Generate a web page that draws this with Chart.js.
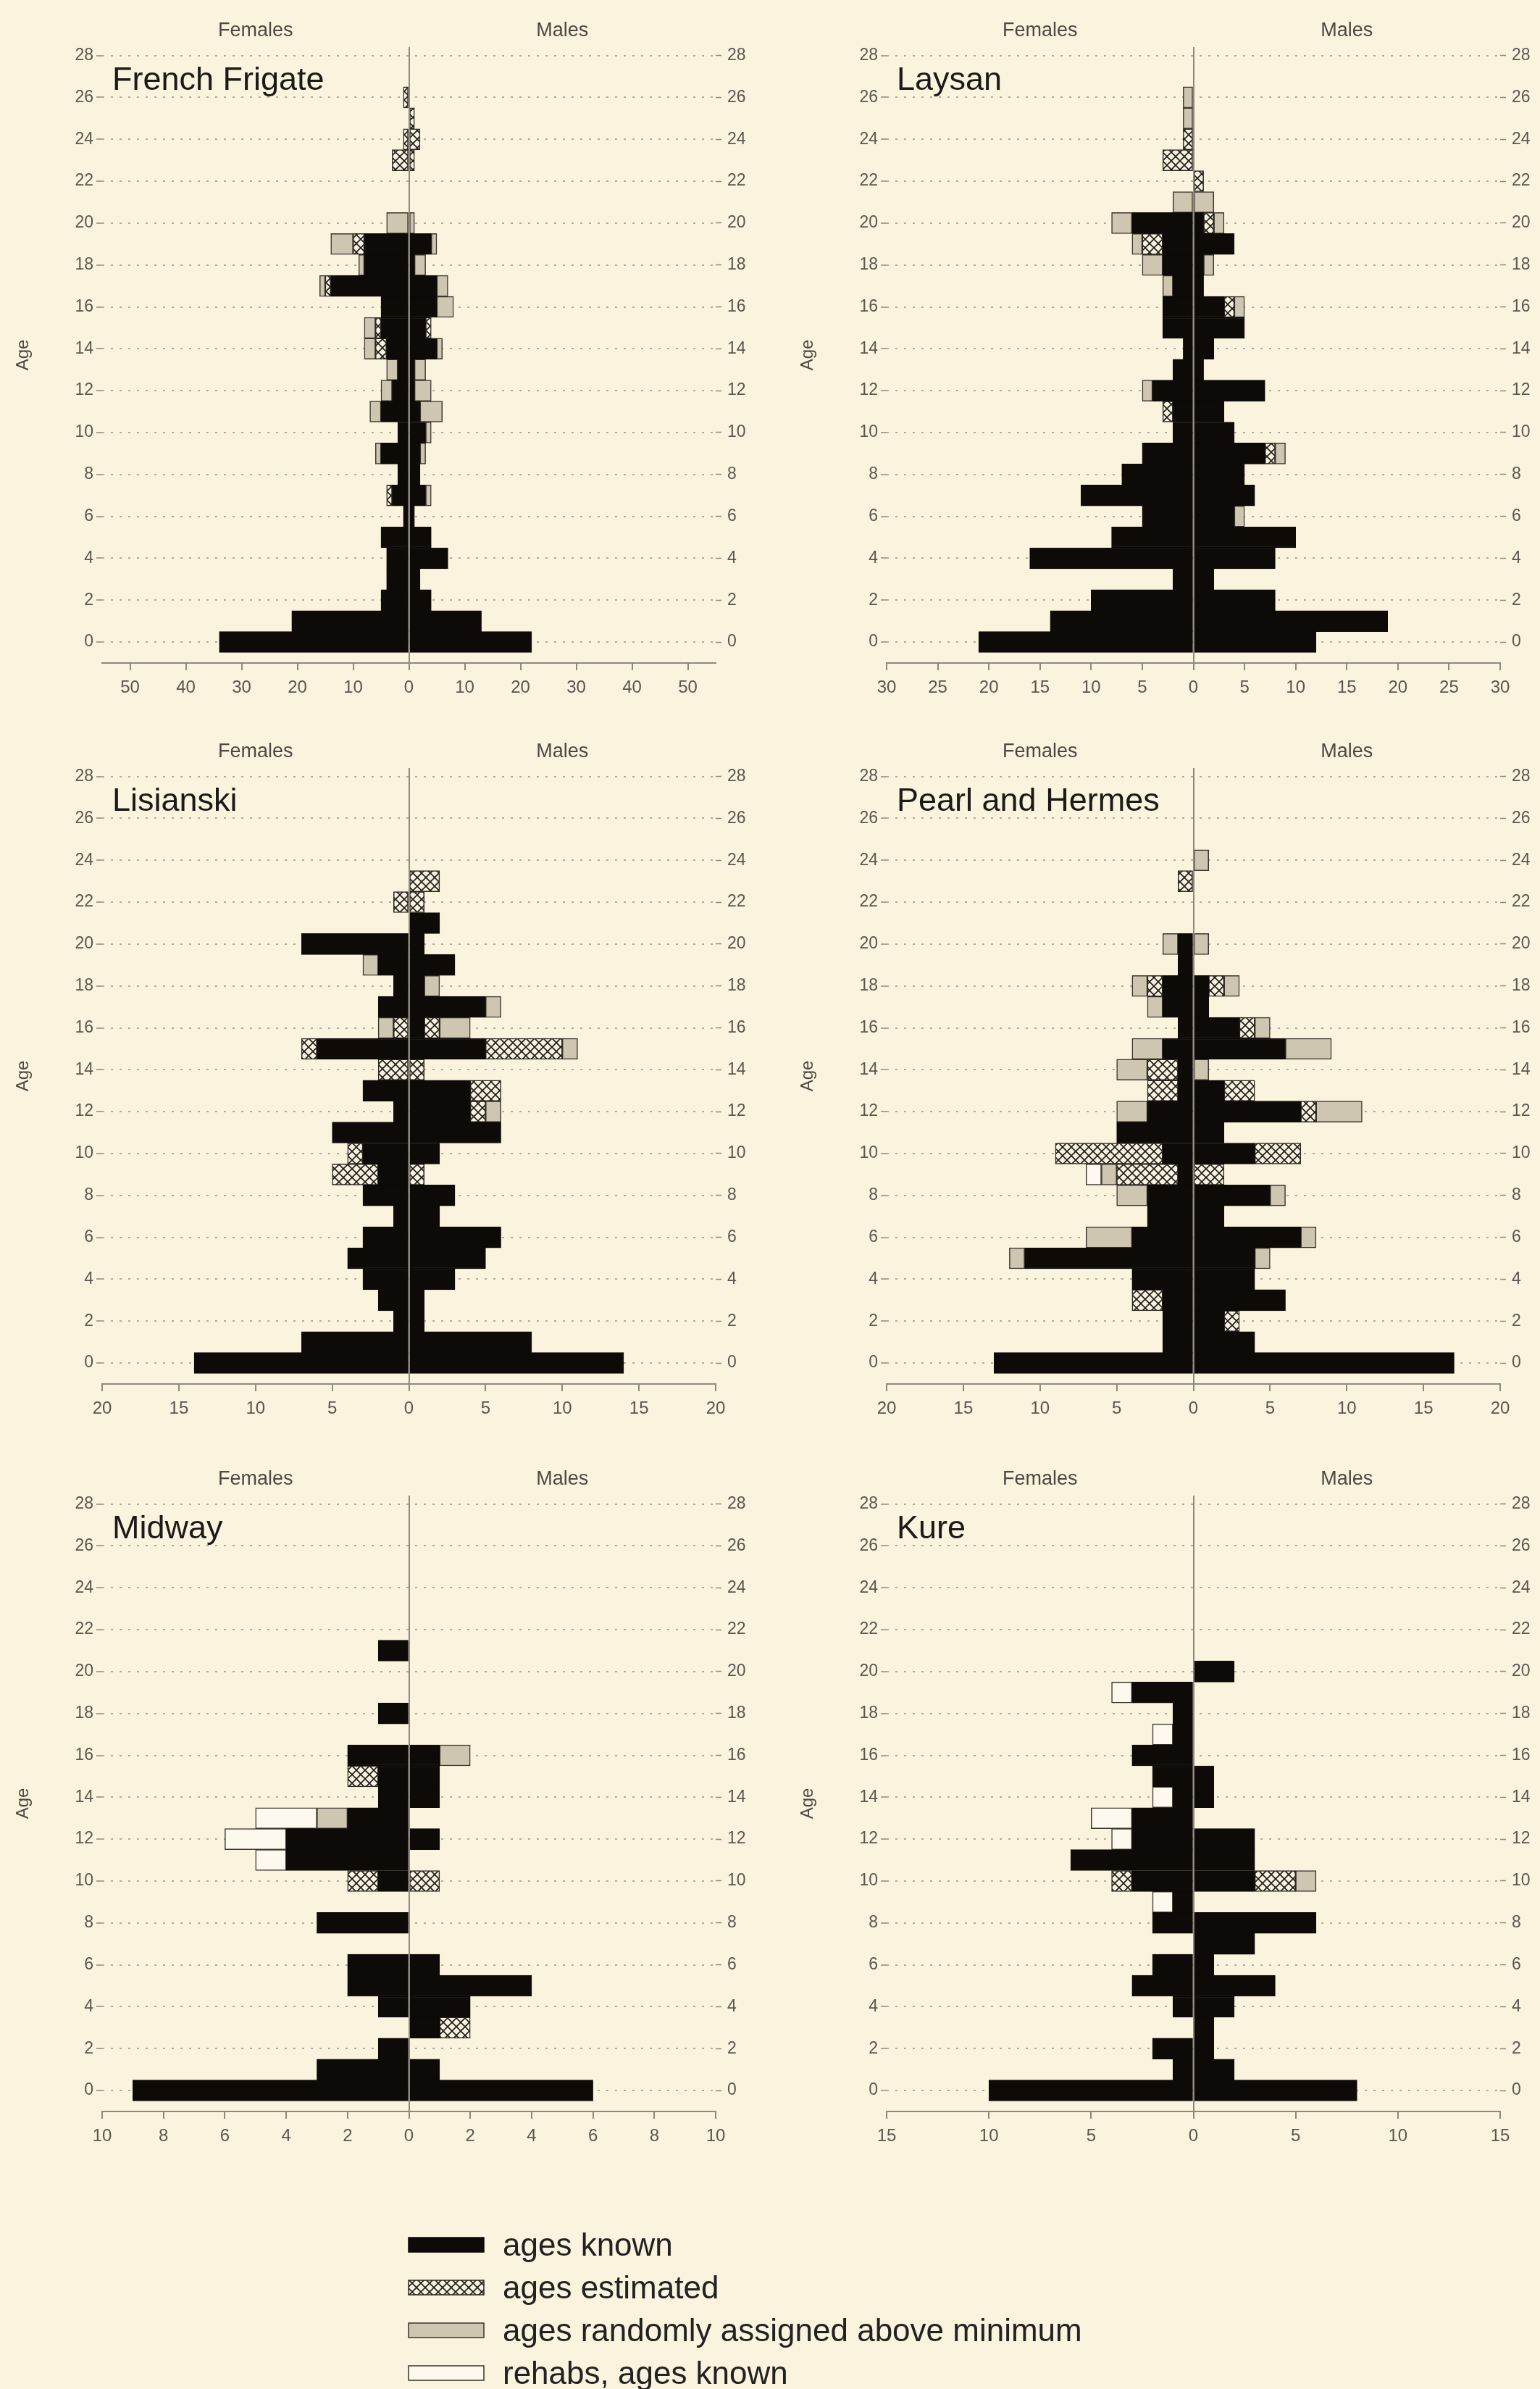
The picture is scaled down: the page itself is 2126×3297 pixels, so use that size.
<!DOCTYPE html>
<html>
<head>
<meta charset="utf-8">
<title>Age structure by island</title>
<script src="https://cdn.jsdelivr.net/npm/chart.js@4.4.1/dist/chart.umd.min.js"></script>
<style>
  html, body { margin: 0; padding: 0; background: #faf3de; }
  body { width: 2126px; height: 3297px; position: relative; overflow: hidden; font-family: "Liberation Sans", Arial, sans-serif; }
  canvas.panel { position: absolute; }
  #legend { position: absolute; left: 563px; top: 3068px; }
  .row { height: 59px; display: flex; align-items: center; }
  .row canvas { margin-right: 25px; }
  .row span { font-size: 44px; color: #222; }
</style>
</head>
<body>
<canvas class="panel" id="p0" width="1043" height="1000" style="left:0;top:0"></canvas>
<canvas class="panel" id="p1" width="1043" height="1000" style="left:1083px;top:0"></canvas>
<canvas class="panel" id="p2" width="1043" height="1000" style="left:0;top:995px"></canvas>
<canvas class="panel" id="p3" width="1043" height="1000" style="left:1083px;top:995px"></canvas>
<canvas class="panel" id="p4" width="1043" height="1000" style="left:0;top:1999px"></canvas>
<canvas class="panel" id="p5" width="1043" height="1000" style="left:1083px;top:1999px"></canvas>
<div id="legend"></div>

<script>
// Age pyramids per island: females drawn to the left, males to the right.
// Every array is indexed by age 0..28.

const ages = [0, 1, 2, 3, 4, 5, 6, 7, 8, 9, 10, 11, 12, 13, 14, 15, 16, 17, 18, 19, 20, 21, 22, 23, 24, 25, 26, 27, 28];
const ageTicks = [0, 2, 4, 6, 8, 10, 12, 14, 16, 18, 20, 22, 24, 26, 28];

const categoryNames = ['ages known', 'ages estimated', 'ages randomly assigned above minimum', 'rehabs, ages known'];

// French Frigate
const ffFemKnown = [34, 21, 5, 4, 4, 5, 1, 3, 2, 5, 2, 5, 3, 2, 4, 5, 5, 14, 8, 8, 0, 0, 0, 0, 0, 0, 0, 0, 0];
const ffFemEst   = [0, 0, 0, 0, 0, 0, 0, 1, 0, 0, 0, 0, 0, 0, 2, 1, 0, 1, 0, 2, 0, 0, 0, 3, 1, 0, 1, 0, 0];
const ffFemRand  = [0, 0, 0, 0, 0, 0, 0, 0, 0, 1, 0, 2, 2, 2, 2, 2, 0, 1, 1, 4, 4, 0, 0, 0, 0, 0, 0, 0, 0];
const ffFemRehab = [0, 0, 0, 0, 0, 0, 0, 0, 0, 0, 0, 0, 0, 0, 0, 0, 0, 0, 0, 0, 0, 0, 0, 0, 0, 0, 0, 0, 0];
const ffMalKnown = [22, 13, 4, 2, 7, 4, 1, 3, 2, 2, 3, 2, 1, 1, 5, 3, 5, 5, 1, 4, 0, 0, 0, 0, 0, 0, 0, 0, 0];
const ffMalEst   = [0, 0, 0, 0, 0, 0, 0, 0, 0, 0, 0, 0, 0, 0, 0, 1, 0, 0, 0, 0, 0, 0, 0, 1, 2, 1, 0, 0, 0];
const ffMalRand  = [0, 0, 0, 0, 0, 0, 0, 1, 0, 1, 1, 4, 3, 2, 1, 0, 3, 2, 2, 1, 1, 0, 0, 0, 0, 0, 0, 0, 0];

// Laysan
const lyFemKnown = [21, 14, 10, 2, 16, 8, 5, 11, 7, 5, 2, 2, 4, 2, 1, 3, 3, 2, 3, 3, 6, 0, 0, 0, 0, 0, 0, 0, 0];
const lyFemEst   = [0, 0, 0, 0, 0, 0, 0, 0, 0, 0, 0, 1, 0, 0, 0, 0, 0, 0, 0, 2, 0, 0, 0, 3, 1, 0, 0, 0, 0];
const lyFemRand  = [0, 0, 0, 0, 0, 0, 0, 0, 0, 0, 0, 0, 1, 0, 0, 0, 0, 1, 2, 1, 2, 2, 0, 0, 0, 1, 1, 0, 0];
const lyFemRehab = [0, 0, 0, 0, 0, 0, 0, 0, 0, 0, 0, 0, 0, 0, 0, 0, 0, 0, 0, 0, 0, 0, 0, 0, 0, 0, 0, 0, 0];
const lyMalKnown = [12, 19, 8, 2, 8, 10, 4, 6, 5, 7, 4, 3, 7, 1, 2, 5, 3, 1, 1, 4, 1, 0, 0, 0, 0, 0, 0, 0, 0];
const lyMalEst   = [0, 0, 0, 0, 0, 0, 0, 0, 0, 1, 0, 0, 0, 0, 0, 0, 1, 0, 0, 0, 1, 0, 1, 0, 0, 0, 0, 0, 0];
const lyMalRand  = [0, 0, 0, 0, 0, 0, 1, 0, 0, 1, 0, 0, 0, 0, 0, 0, 1, 0, 1, 0, 1, 2, 0, 0, 0, 0, 0, 0, 0];

// Lisianski
const liFemKnown = [14, 7, 1, 2, 3, 4, 3, 1, 3, 2, 3, 5, 1, 3, 0, 6, 0, 2, 1, 2, 7, 0, 0, 0, 0, 0, 0, 0, 0];
const liFemEst   = [0, 0, 0, 0, 0, 0, 0, 0, 0, 3, 1, 0, 0, 0, 2, 1, 1, 0, 0, 0, 0, 0, 1, 0, 0, 0, 0, 0, 0];
const liFemRand  = [0, 0, 0, 0, 0, 0, 0, 0, 0, 0, 0, 0, 0, 0, 0, 0, 1, 0, 0, 1, 0, 0, 0, 0, 0, 0, 0, 0, 0];
const liFemRehab = [0, 0, 0, 0, 0, 0, 0, 0, 0, 0, 0, 0, 0, 0, 0, 0, 0, 0, 0, 0, 0, 0, 0, 0, 0, 0, 0, 0, 0];
const liMalKnown = [14, 8, 1, 1, 3, 5, 6, 2, 3, 0, 2, 6, 4, 4, 0, 5, 1, 5, 1, 3, 1, 2, 0, 0, 0, 0, 0, 0, 0];
const liMalEst   = [0, 0, 0, 0, 0, 0, 0, 0, 0, 1, 0, 0, 1, 2, 1, 5, 1, 0, 0, 0, 0, 0, 1, 2, 0, 0, 0, 0, 0];
const liMalRand  = [0, 0, 0, 0, 0, 0, 0, 0, 0, 0, 0, 0, 1, 0, 0, 1, 2, 1, 1, 0, 0, 0, 0, 0, 0, 0, 0, 0, 0];

// Pearl and Hermes
const phFemKnown = [13, 2, 2, 2, 4, 11, 4, 3, 3, 1, 2, 5, 3, 1, 1, 2, 1, 2, 2, 1, 1, 0, 0, 0, 0, 0, 0, 0, 0];
const phFemEst   = [0, 0, 0, 2, 0, 0, 0, 0, 0, 4, 7, 0, 0, 2, 2, 0, 0, 0, 1, 0, 0, 0, 0, 1, 0, 0, 0, 0, 0];
const phFemRand  = [0, 0, 0, 0, 0, 1, 3, 0, 2, 1, 0, 0, 2, 0, 2, 2, 0, 1, 1, 0, 1, 0, 0, 0, 0, 0, 0, 0, 0];
const phFemRehab = [0, 0, 0, 0, 0, 0, 0, 0, 0, 1, 0, 0, 0, 0, 0, 0, 0, 0, 0, 0, 0, 0, 0, 0, 0, 0, 0, 0, 0];
const phMalKnown = [17, 4, 2, 6, 4, 4, 7, 2, 5, 0, 4, 2, 7, 2, 0, 6, 3, 1, 1, 0, 0, 0, 0, 0, 0, 0, 0, 0, 0];
const phMalEst   = [0, 0, 1, 0, 0, 0, 0, 0, 0, 2, 3, 0, 1, 2, 0, 0, 1, 0, 1, 0, 0, 0, 0, 0, 0, 0, 0, 0, 0];
const phMalRand  = [0, 0, 0, 0, 0, 1, 1, 0, 1, 0, 0, 0, 3, 0, 1, 3, 1, 0, 1, 0, 1, 0, 0, 0, 1, 0, 0, 0, 0];

// Midway
const miFemKnown = [9, 3, 1, 0, 1, 2, 2, 0, 3, 0, 1, 4, 4, 2, 1, 1, 2, 0, 1, 0, 0, 1, 0, 0, 0, 0, 0, 0, 0];
const miFemEst   = [0, 0, 0, 0, 0, 0, 0, 0, 0, 0, 1, 0, 0, 0, 0, 1, 0, 0, 0, 0, 0, 0, 0, 0, 0, 0, 0, 0, 0];
const miFemRand  = [0, 0, 0, 0, 0, 0, 0, 0, 0, 0, 0, 0, 0, 1, 0, 0, 0, 0, 0, 0, 0, 0, 0, 0, 0, 0, 0, 0, 0];
const miFemRehab = [0, 0, 0, 0, 0, 0, 0, 0, 0, 0, 0, 1, 2, 2, 0, 0, 0, 0, 0, 0, 0, 0, 0, 0, 0, 0, 0, 0, 0];
const miMalKnown = [6, 1, 0, 1, 2, 4, 1, 0, 0, 0, 0, 0, 1, 0, 1, 1, 1, 0, 0, 0, 0, 0, 0, 0, 0, 0, 0, 0, 0];
const miMalEst   = [0, 0, 0, 1, 0, 0, 0, 0, 0, 0, 1, 0, 0, 0, 0, 0, 0, 0, 0, 0, 0, 0, 0, 0, 0, 0, 0, 0, 0];
const miMalRand  = [0, 0, 0, 0, 0, 0, 0, 0, 0, 0, 0, 0, 0, 0, 0, 0, 1, 0, 0, 0, 0, 0, 0, 0, 0, 0, 0, 0, 0];

// Kure
const kuFemKnown = [10, 1, 2, 0, 1, 3, 2, 0, 2, 1, 3, 6, 3, 3, 1, 2, 3, 1, 1, 3, 0, 0, 0, 0, 0, 0, 0, 0, 0];
const kuFemEst   = [0, 0, 0, 0, 0, 0, 0, 0, 0, 0, 1, 0, 0, 0, 0, 0, 0, 0, 0, 0, 0, 0, 0, 0, 0, 0, 0, 0, 0];
const kuFemRand  = [0, 0, 0, 0, 0, 0, 0, 0, 0, 0, 0, 0, 0, 0, 0, 0, 0, 0, 0, 0, 0, 0, 0, 0, 0, 0, 0, 0, 0];
const kuFemRehab = [0, 0, 0, 0, 0, 0, 0, 0, 0, 1, 0, 0, 1, 2, 1, 0, 0, 1, 0, 1, 0, 0, 0, 0, 0, 0, 0, 0, 0];
const kuMalKnown = [8, 2, 1, 1, 2, 4, 1, 3, 6, 0, 3, 3, 3, 0, 1, 1, 0, 0, 0, 0, 2, 0, 0, 0, 0, 0, 0, 0, 0];
const kuMalEst   = [0, 0, 0, 0, 0, 0, 0, 0, 0, 0, 2, 0, 0, 0, 0, 0, 0, 0, 0, 0, 0, 0, 0, 0, 0, 0, 0, 0, 0];
const kuMalRand  = [0, 0, 0, 0, 0, 0, 0, 0, 0, 0, 1, 0, 0, 0, 0, 0, 0, 0, 0, 0, 0, 0, 0, 0, 0, 0, 0, 0, 0];

// Labelled ticks per panel (each axis runs symmetric around 0)
const ffTicks = [-50, -40, -30, -20, -10, 0, 10, 20, 30, 40, 50];
const lyTicks = [-30, -25, -20, -15, -10, -5, 0, 5, 10, 15, 20, 25, 30];
const liTicks = [-20, -15, -10, -5, 0, 5, 10, 15, 20];
const phTicks = [-20, -15, -10, -5, 0, 5, 10, 15, 20];
const miTicks = [-10, -8, -6, -4, -2, 0, 2, 4, 6, 8, 10];
const kuTicks = [-15, -10, -5, 0, 5, 10, 15];

const FONT = '"Liberation Sans", Arial, sans-serif';
const tickGray = '#5a564e';
const dotGray = '#b1ab99';
const lineGray = '#8e897e';

// Crosshatch fill for estimated ages
function makeHatch(ctx) {
    const tile = document.createElement('canvas');
    tile.width = 12;
    tile.height = 12;
    const g = tile.getContext('2d');
    g.fillStyle = '#f7f1df';
    g.fillRect(0, 0, 12, 12);
    g.strokeStyle = '#1d1a16';
    g.lineWidth = 1.6;
    g.beginPath();
    g.moveTo(0, 0); g.lineTo(12, 12);
    g.moveTo(12, 0); g.lineTo(0, 12);
    g.stroke();
    return ctx.createPattern(tile, 'repeat');
}

function getStyles(ctx) {
    return [
        { fill: '#0d0a07', border: '#0d0a07' },
        { fill: makeHatch(ctx), border: '#2b2722' },
        { fill: '#cec6b0', border: '#3a352e' },
        { fill: '#fdf9ee', border: '#3a352e' }
    ];
}

// Draws "Females" / "Males" headings and the island name
const panelText = {
    id: 'panelText',
    afterDraw(chart, args, opts) {
        const { ctx, chartArea: a, scales } = chart;
        const zero = scales.x.getPixelForValue(0);
        ctx.save();
        ctx.font = '27px ' + FONT;
        ctx.fillStyle = '#4d4942';
        ctx.textAlign = 'center';
        ctx.textBaseline = 'middle';
        ctx.fillText('Females', (a.left + zero) / 2, a.top - 22);
        ctx.fillText('Males', (a.right + zero) / 2, a.top - 22);
        ctx.font = '45px ' + FONT;
        ctx.fillStyle = '#1c1a17';
        ctx.textAlign = 'left';
        ctx.fillText(opts.title, a.left + 14, scales.y.getPixelForValue(26.8));
        ctx.restore();
    }
};

function sideData(values, sign) {
    return values.map(v => (v ? sign * v : null));
}

function buildPanel(id, title, fem, mal, xTicks) {
    const canvas = document.getElementById(id);
    const styles = getStyles(canvas.getContext('2d'));
    const xLim = Math.max(...xTicks) === 50 ? 55 : Math.max(...xTicks);

    const datasets = [];
    fem.forEach((arr, i) => {
        datasets.push({
            label: categoryNames[i] + ' (females)',
            data: sideData(arr, -1),
            backgroundColor: styles[i].fill,
            borderColor: styles[i].border
        });
    });
    mal.forEach((arr, i) => {
        datasets.push({
            label: categoryNames[i] + ' (males)',
            data: sideData(arr, 1),
            backgroundColor: styles[i].fill,
            borderColor: styles[i].border
        });
    });
    datasets.forEach(d => {
        d.borderWidth = 1.5;
        d.borderSkipped = false;
        d.barPercentage = 1;
        d.categoryPercentage = 1;
        d.xAxisID = 'x';
        d.yAxisID = 'y';
    });

    const ageTickOpts = {
        font: { family: FONT, size: 23 },
        color: tickGray,
        autoSkip: false
    };

    return new Chart(canvas, {
        type: 'bar',
        data: { labels: ages, datasets: datasets },
        options: {
            indexAxis: 'y',
            responsive: false,
            animation: false,
            devicePixelRatio: 1,
            layout: { padding: { top: 65, left: 0, right: 0, bottom: 0 } },
            plugins: {
                legend: { display: false },
                tooltip: { enabled: false },
                panelText: { title: title }
            },
            scales: {
                x: {
                    type: 'linear',
                    stacked: true,
                    min: -xLim,
                    max: xLim,
                    afterBuildTicks: s => { s.ticks = xTicks.map(v => ({ value: v })); },
                    afterFit: s => { s.height = 85; },
                    ticks: {
                        callback: v => Math.abs(v),
                        font: { family: FONT, size: 24 },
                        color: tickGray,
                        padding: 10,
                        maxRotation: 0,
                        autoSkip: false
                    },
                    grid: {
                        z: 1,
                        color: c => (c.tick && c.tick.value === 0 ? lineGray : 'rgba(0,0,0,0)'),
                        lineWidth: 2,
                        tickColor: lineGray,
                        tickLength: 10,
                        tickWidth: 2
                    },
                    border: { display: true, color: lineGray, width: 2, z: 1 }
                },
                y: {
                    type: 'linear',
                    stacked: true,
                    position: 'left',
                    offset: false,
                    min: -1,
                    max: 28.4,
                    afterBuildTicks: s => { s.ticks = ageTicks.map(v => ({ value: v })); },
                    afterFit: s => { s.width = 141; },
                    ticks: Object.assign({ padding: 4 }, ageTickOpts),
                    grid: {
                        offset: false,
                        color: dotGray,
                        lineWidth: 2,
                        tickColor: lineGray,
                        tickLength: 8,
                        tickWidth: 1.5
                    },
                    border: { display: false, dash: [3, 9] },
                    title: {
                        display: true,
                        text: 'Age',
                        color: '#4d4942',
                        font: { family: FONT, size: 24 },
                        padding: { top: 18, bottom: 0 }
                    }
                },
                y2: {
                    type: 'linear',
                    position: 'right',
                    offset: false,
                    min: -1,
                    max: 28.4,
                    afterBuildTicks: s => { s.ticks = ageTicks.map(v => ({ value: v })); },
                    afterFit: s => { s.width = 55; },
                    ticks: Object.assign({ padding: 8 }, ageTickOpts),
                    grid: {
                        offset: false,
                        drawOnChartArea: false,
                        tickColor: lineGray,
                        tickLength: 8,
                        tickWidth: 1.5
                    },
                    border: { display: false }
                }
            }
        },
        plugins: [panelText]
    });
}

buildPanel('p0', 'French Frigate',
    [ffFemKnown, ffFemEst, ffFemRand, ffFemRehab], [ffMalKnown, ffMalEst, ffMalRand], ffTicks);
buildPanel('p1', 'Laysan',
    [lyFemKnown, lyFemEst, lyFemRand, lyFemRehab], [lyMalKnown, lyMalEst, lyMalRand], lyTicks);
buildPanel('p2', 'Lisianski',
    [liFemKnown, liFemEst, liFemRand, liFemRehab], [liMalKnown, liMalEst, liMalRand], liTicks);
buildPanel('p3', 'Pearl and Hermes',
    [phFemKnown, phFemEst, phFemRand, phFemRehab], [phMalKnown, phMalEst, phMalRand], phTicks);
buildPanel('p4', 'Midway',
    [miFemKnown, miFemEst, miFemRand, miFemRehab], [miMalKnown, miMalEst, miMalRand], miTicks);
buildPanel('p5', 'Kure',
    [kuFemKnown, kuFemEst, kuFemRand, kuFemRehab], [kuMalKnown, kuMalEst, kuMalRand], kuTicks);

// Shared legend
(function buildLegend() {
    const legend = document.getElementById('legend');
    categoryNames.forEach((name, i) => {
        const row = document.createElement('div');
        row.className = 'row';
        const sw = document.createElement('canvas');
        sw.width = 106;
        sw.height = 24;
        const g = sw.getContext('2d');
        const st = getStyles(g)[i];
        g.fillStyle = st.fill;
        g.fillRect(1, 2, 104, 20);
        g.strokeStyle = st.border;
        g.lineWidth = 1.5;
        g.strokeRect(1, 2, 104, 20);
        const label = document.createElement('span');
        label.textContent = name;
        row.appendChild(sw);
        row.appendChild(label);
        legend.appendChild(row);
    });
})();
</script>
</body>
</html>
